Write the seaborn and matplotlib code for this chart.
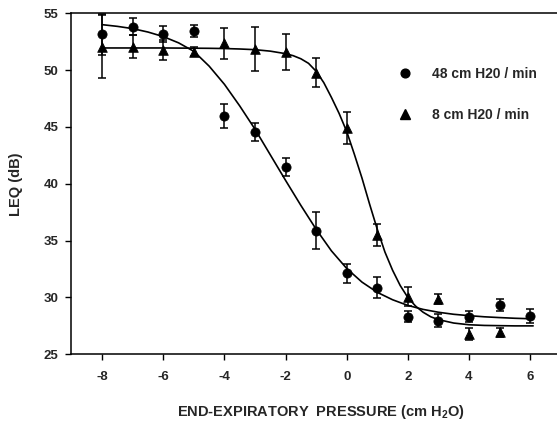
import numpy as np
import pandas as pd
import matplotlib
matplotlib.use('Agg')
import matplotlib.pyplot as plt
import seaborn as sns
from matplotlib.lines import Line2D

# =========================
# DATA
# =========================
pressure_48 = [-8, -7, -6, -5, -4, -3, -2, -1, 0, 1, 2, 3, 4, 5, 6]
leq_48 = [53.15, 53.82, 53.18, 53.44, 45.97, 44.59, 41.51, 35.88, 32.13, 30.87, 28.32, 27.96, 28.32, 29.35, 28.38]
err_48 = [1.8, 0.75, 0.7, 0.5, 1.05, 0.8, 0.8, 1.6, 0.82, 0.95, 0.5, 0.6, 0.5, 0.5, 0.6]

pressure_8 = [-8, -7, -6, -5, -4, -3, -2, -1, 0, 1, 2, 3, 4, 5]
leq_8 = [52.06, 52.06, 51.77, 51.62, 52.36, 51.86, 51.62, 49.78, 44.89, 35.5, 30.07, 29.87, 26.79, 26.94]
err_8 = [2.75, 1.0, 0.87, 0.4, 1.35, 1.9, 1.6, 1.28, 1.4, 0.95, 0.83, 0.45, 0.55, 0.4]

# fitted curves
fit_x_48 = [-8, -7.5, -7, -6.5, -6, -5.5, -5, -4.5, -4, -3.5, -3, -2.5, -2, -1.5, -1, -0.5,
            0, 0.5, 1, 1.5, 2, 2.5, 3, 3.5, 4, 4.5, 5, 5.5, 6.1]
fit_48 = [54.0, 53.85, 53.65, 53.35, 52.95, 52.4, 51.65, 50.35, 48.75, 46.85, 44.8, 42.55, 40.3, 38.1, 36.0, 34.1,
          32.55, 31.35, 30.45, 29.8, 29.3, 28.95, 28.7, 28.52, 28.4, 28.3, 28.23, 28.17, 28.12]

fit_x_8 = [-8, -7, -6, -5, -4.5, -4, -3.5, -3, -2.5, -2, -1.75, -1.5, -1.25, -1, -0.75, -0.5, -0.25,
           0, 0.25, 0.5, 0.75, 1, 1.25, 1.5, 1.75, 2, 2.25, 2.5, 2.75, 3, 3.5, 4, 4.5, 5, 5.5, 6.1]
fit_8 = [51.95, 51.95, 51.95, 51.93, 51.92, 51.9, 51.86, 51.8, 51.67, 51.45, 51.27, 51.0, 50.6, 49.9, 48.9, 47.6, 46.2,
         44.6, 42.6, 40.5, 38.2, 36.0, 34.0, 32.4, 31.05, 30.0, 29.25, 28.7, 28.3, 28.05, 27.75, 27.6, 27.54, 27.52, 27.5, 27.5]

labels = ['48 cm H20 / min', '8 cm H20 / min']

# =========================
# STYLE
# =========================
sns.set_style('ticks')
plt.rcParams['font.family'] = ['Liberation Sans', 'DejaVu Sans']
plt.rcParams['font.weight'] = 'bold'
plt.rcParams['axes.unicode_minus'] = False
plt.rcParams['mathtext.fontset'] = 'custom'
plt.rcParams['mathtext.rm'] = 'Liberation Sans:bold'
plt.rcParams['mathtext.default'] = 'rm'

fig = plt.figure(figsize=(5.57, 4.24), dpi=100)
ax = fig.add_axes([70.7 / 557, (424 - 354.3) / 424, (557 - 70.7) / 557, 341 / 424])

# fitted curves
sns.lineplot(x=fit_x_48, y=fit_48, color='black', linewidth=1.2, sort=False, estimator=None, ax=ax)
sns.lineplot(x=fit_x_8, y=fit_8, color='black', linewidth=1.2, sort=False, estimator=None, ax=ax)

# error bars
ax.errorbar(pressure_48, leq_48, yerr=err_48, fmt='none', ecolor='black', elinewidth=1.1, capsize=3.2, capthick=1.1)
ax.errorbar(pressure_8, leq_8, yerr=err_8, fmt='none', ecolor='black', elinewidth=1.1, capsize=3.2, capthick=1.1)

# markers
sns.scatterplot(x=pressure_48, y=leq_48, marker='o', s=44, color='black', edgecolor='black', ax=ax, zorder=5)
sns.scatterplot(x=pressure_8, y=leq_8, marker='^', s=48, color='black', edgecolor='black', ax=ax, zorder=5)

ax.set_xlim(-9.03, 6.88)
ax.set_ylim(25, 55)
ax.set_xticks(range(-8, 7, 2))
ax.set_yticks(range(25, 56, 5))
ax.tick_params(axis='both', labelsize=9.5, width=1.0, color='black')
ax.tick_params(axis='x', length=4, pad=8)
ax.tick_params(axis='y', length=4, pad=5)

for sp in ['left', 'bottom', 'top']:
    ax.spines[sp].set_linewidth(1.1)
    ax.spines[sp].set_color('black')
ax.spines['right'].set_visible(False)

ax.set_xlabel(r'END-EXPIRATORY  PRESSURE (cm H$_2$O)', fontsize=10.5, fontweight='bold')
ax.set_ylabel('LEQ (dB)', fontsize=10.5, fontweight='bold')
ax.xaxis.set_label_coords(0.515, -0.142)
ax.yaxis.set_label_coords(-0.098, 0.5)

# legend
handles = [Line2D([], [], marker='o', color='black', linestyle='none', markersize=6.3),
           Line2D([], [], marker='^', color='black', linestyle='none', markersize=6.8)]
ax.legend(handles, labels, loc='upper left', bbox_to_anchor=(398 / 557, 1 - 67 / 424),
          bbox_transform=fig.transFigure, frameon=False, fontsize=10, handlelength=1.0,
          handletextpad=1.45, labelspacing=1.97, borderpad=0, borderaxespad=0)

plt.savefig('out.png', dpi=100)
plt.close()
